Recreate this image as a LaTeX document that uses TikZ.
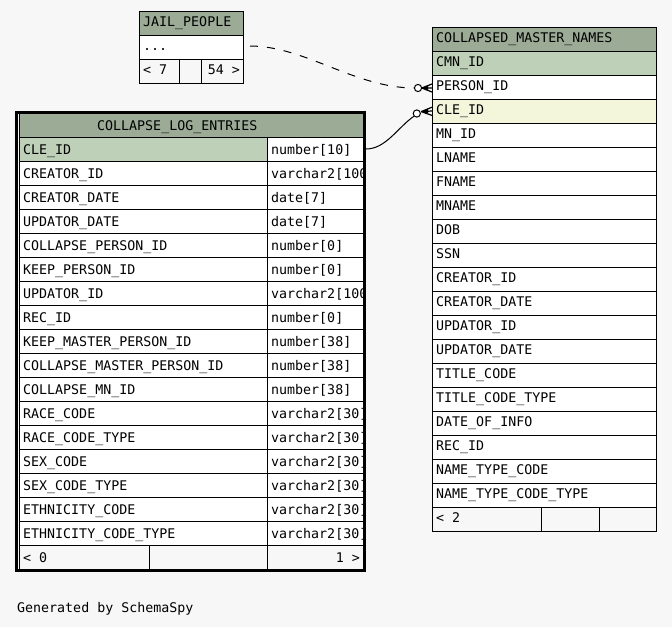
\documentclass[tikz,border=0pt]{standalone}
\usepackage{fontspec}
\newfontfamily\tabfont{DejaVu Sans Mono}
\definecolor{bgc}{HTML}{F7F7F7}
\definecolor{hdr}{HTML}{9CAB96}
\definecolor{pkc}{HTML}{BED1B8}
\definecolor{idxc}{HTML}{F4F6DC}
\tikzset{
  txt/.style={anchor=base west, inner sep=0pt, font=\tabfont\fontsize{13.3}{16}\selectfont},
  txtr/.style={anchor=base east, inner sep=0pt, font=\tabfont\fontsize{13.3}{16}\selectfont},
  cell/.style={draw=black, line width=1pt},
  crow/.style={line width=1.2pt, black},
  odot/.style={draw=black, fill=white, line width=1pt},
}
\begin{document}
\begin{tikzpicture}[x=1pt,y=-1pt]
\fill[bgc] (0,0) rectangle (672,627);
\useasboundingbox (0,0) rectangle (672,627);

% ---------------- JAIL_PEOPLE ----------------
\fill[hdr] (139,11) rectangle (243,35);
\fill[white] (139,35) rectangle (243,59);
\draw[cell] (139,11) rectangle (243,83);
\draw[cell] (139,35) -- (243,35);
\draw[cell] (139,59) -- (243,59);
\draw[cell] (179,59) -- (179,83);
\draw[cell] (201,59) -- (201,83);
\node[txt] (jp-h) at (143,26) {JAIL\_PEOPLE};
\node[txt] (jp-r) at (143,50) {...};
\node[txt] (jp-f1) at (143,74) {< 7};
\node[txtr] (jp-f2) at (240,74) {54 >};
\coordinate (jp-e) at (250,46);

% ---------------- COLLAPSED_MASTER_NAMES ----------------
\fill[hdr] (432,27) rectangle (656,51);
\fill[white] (432,51) rectangle (656,507);
\fill[pkc] (432,51) rectangle (656,75);
\fill[idxc] (432,99) rectangle (656,123);
\draw[cell] (432,27) rectangle (656,531);
\draw[cell] (432,51) -- (656,51);
\node[txt] (cmn-h) at (436,42) {COLLAPSED\_MASTER\_NAMES};
\foreach \n [count=\i from 0] in {CMN\_ID,PERSON\_ID,CLE\_ID,MN\_ID,LNAME,FNAME,MNAME,DOB,SSN,CREATOR\_ID,CREATOR\_DATE,UPDATOR\_ID,UPDATOR\_DATE,TITLE\_CODE,TITLE\_CODE\_TYPE,DATE\_OF\_INFO,REC\_ID,NAME\_TYPE\_CODE,NAME\_TYPE\_CODE\_TYPE}{
  \draw[cell] (432,75+24*\i) -- (656,75+24*\i);
  \node[txt] (cmn-\i) at (436,66+24*\i) {\n};
}
\draw[cell] (541,507) -- (541,531);
\draw[cell] (599,507) -- (599,531);
\node[txt] (cmn-f1) at (436,522) {< 2};

% ---------------- COLLAPSE_LOG_ENTRIES ----------------
\fill[hdr] (19,113) rectangle (363,137);
\fill[white] (19,137) rectangle (363,545);
\fill[pkc] (19,137) rectangle (267,161);
\draw[cell] (19,113) rectangle (363,569);
\draw[cell] (19,137) -- (363,137);
\node[txt] (cle-h) at (97,130) {COLLAPSE\_LOG\_ENTRIES};
\foreach \n/\t [count=\i from 0] in {CLE\_ID/number[10],CREATOR\_ID/varchar2[100],CREATOR\_DATE/date[7],UPDATOR\_DATE/date[7],COLLAPSE\_PERSON\_ID/number[0],KEEP\_PERSON\_ID/number[0],UPDATOR\_ID/varchar2[100],REC\_ID/number[0],KEEP\_MASTER\_PERSON\_ID/number[38],COLLAPSE\_MASTER\_PERSON\_ID/number[38],COLLAPSE\_MN\_ID/number[38],RACE\_CODE/varchar2[30],RACE\_CODE\_TYPE/varchar2[30],SEX\_CODE/varchar2[30],SEX\_CODE\_TYPE/varchar2[30],ETHNICITY\_CODE/varchar2[30],ETHNICITY\_CODE\_TYPE/varchar2[30]}{
  \draw[cell] (19,161+24*\i) -- (363,161+24*\i);
  \node[txt] (cle-\i) at (23,154+24*\i) {\n};
  \begin{scope}
    \clip (267,137) rectangle (363,569);
    \node[txt] (cle-t\i) at (271,154+24*\i) {\t};
  \end{scope}
}
\draw[cell] (267,137) -- (267,569);
\draw[cell] (149,545) -- (149,569);
\node[txt] (cle-f1) at (23,562) {< 0};
\node[txtr] (cle-f2) at (360,562) {1 >};
\draw[line width=3pt] (16.5,112.5) rectangle (364.5,570);
\coordinate (cle-e) at (366,149);

% ---------------- connectors ----------------
\coordinate (c1) at (418,88);
\coordinate (k1) at (421.7,88);
\coordinate (c2) at (416.8,113.5);
\coordinate (k2) at (421.2,111.6);
\draw[line width=1pt, dash pattern=on 8pt off 9pt] (jp-e) .. controls (305,46) and (355,88) .. ([xshift=-3.5pt]c1);
\draw[line width=1pt] (cle-e) .. controls (386,149) and (398,127) .. ([shift={(-2.5,2.5)}]c2);
\draw[crow] (k1) -- (432,84) (k1) -- (432,88) (k1) -- (432,92);
\fill (k1) -- (428,85.5) -- (428,90.5) -- cycle;
\draw[crow] (k2) -- (432,107.2) (k2) -- (432,111) (k2) -- (432,115.4);
\fill (k2) -- (428,108.6) -- (428,113.6) -- cycle;
\draw[odot] (c1) circle (3.6);
\draw[odot] (c2) circle (3.6);

% ---------------- footer ----------------
\node[txt] (gen) at (17,612) {Generated by SchemaSpy};
\end{tikzpicture}
\end{document}
